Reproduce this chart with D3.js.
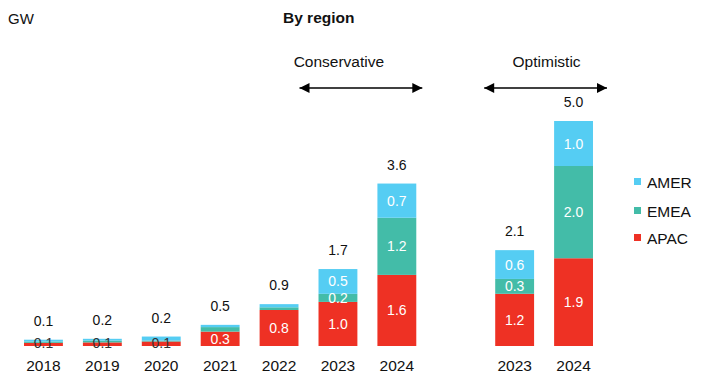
<!DOCTYPE html>
<html><head><meta charset="utf-8">
<script src="https://cdn.jsdelivr.net/npm/d3@7"></script>
<style>body{margin:0;background:#fff}svg{display:block;font-family:Arial,"Liberation Sans",sans-serif}</style>
</head><body><svg id="c" width="720" height="381"></svg>
<script>
// slot keys (one empty slot separates scenarios)
const slots = ["2018","2019","2020","2021","2022","2023c","2024c","gap","2023o","2024o"];
const bars = ["2018","2019","2020","2021","2022","2023c","2024c","2023o","2024o"];
const xLabels = ["2018","2019","2020","2021","2022","2023","2024","2023","2024"];
const apac = [0.07,0.08,0.10,0.32,0.80,0.98,1.58,1.16,1.95];
const emea = [0.03,0.04,0.02,0.10,0.06,0.18,1.27,0.33,2.05];
const amer = [0.04,0.04,0.09,0.05,0.07,0.55,0.76,0.64,1.00];
const totalLabels = ["0.1","0.2","0.2","0.5","0.9","1.7","3.6","2.1","5.0"];
const apacLabels = ["0.1","0.1","0.1","0.3","0.8","1.0","1.6","1.2","1.9"];
const emeaLabels = ["","","","","","0.2","1.2","0.3","2.0"];
const amerLabels = ["","","","","","0.5","0.7","0.6","1.0"];
const seriesNames = ["APAC","EMEA","AMER"];
const colors = {APAC:"#ee3124", EMEA:"#43bca8", AMER:"#55cdf3"};
const scenarios = [{name:"Conservative", from:"2023c", to:"2024c"},{name:"Optimistic", from:"2023o", to:"2024o"}];

const svg = d3.select("#c");
const x = d3.scaleBand().domain(slots).range([14, 603]).paddingInner(0.34).paddingOuter(0.17);
const y = d3.scaleLinear().domain([0, 5.0]).range([346, 121]);

const rows = bars.map((k,i)=>({key:k, APAC:apac[i], EMEA:emea[i], AMER:amer[i], i}));
const stack = d3.stack().keys(seriesNames)(rows);
const labelsBy = {APAC:apacLabels, EMEA:emeaLabels, AMER:amerLabels};

stack.forEach(s=>{
  svg.append("g").selectAll("rect").data(s).join("rect")
    .attr("x", d=>x(d.data.key)).attr("width", x.bandwidth())
    .attr("y", d=>y(d[1])).attr("height", d=>y(d[0])-y(d[1]))
    .attr("fill", colors[s.key]);
});
const tiny = d=>(y(d[0])-y(d[1]))<6;
stack.forEach(s=>{
  svg.append("g").selectAll("text").data(s.filter(d=>labelsBy[s.key][d.data.i]!=="")).join("text")
    .attr("x", d=>x(d.data.key)+x.bandwidth()/2)
    .attr("y", d=>tiny(d) ? y(d[0])-3+5 : (y(d[0])+y(d[1]))/2+5)
    .attr("text-anchor","middle").attr("font-size",14)
    .attr("fill", d=>tiny(d) ? "#333" : "#fff")
    .text(d=>labelsBy[s.key][d.data.i]);
});
// totals
svg.append("g").selectAll("text").data(rows).join("text")
  .attr("x", d=>x(d.key)+x.bandwidth()/2)
  .attr("y", d=>y(d.APAC+d.EMEA+d.AMER)-14)
  .attr("text-anchor","middle").attr("font-size",14).attr("fill","#111")
  .text(d=>totalLabels[d.i]);
// x axis labels
svg.append("g").selectAll("text").data(rows).join("text")
  .attr("x", d=>x(d.key)+x.bandwidth()/2).attr("y", 371)
  .attr("text-anchor","middle").attr("font-size",15.5).attr("fill","#111")
  .text(d=>xLabels[d.i]);

// titles
svg.append("text").attr("x",8).attr("y",24).attr("font-size",15).attr("fill","#111").text("GW");
svg.append("text").attr("x",283).attr("y",23).attr("font-size",15.5).attr("font-weight","bold").attr("fill","#111").text("By region");

// scenario arrows
const defs = svg.append("defs");
defs.append("marker").attr("id","ah").attr("viewBox","0 0 10 10").attr("refX",10).attr("refY",5)
  .attr("markerWidth",12).attr("markerHeight",10).attr("markerUnits","userSpaceOnUse").attr("orient","auto-start-reverse")
  .append("path").attr("d","M0,0L10,5L0,10Z").attr("fill","#000");
const arrowPad = [[-19, 6], [-11, 14]];
const textShift = [-22, 1];
scenarios.forEach((s,i)=>{
  const x0 = x(s.from) + arrowPad[i][0], x1 = x(s.to) + x.bandwidth() + arrowPad[i][1];
  svg.append("line").attr("x1",x0).attr("x2",x1).attr("y1",88).attr("y2",88)
    .attr("stroke","#000").attr("stroke-width",1.3)
    .attr("marker-start","url(#ah)").attr("marker-end","url(#ah)");
  svg.append("text").attr("x",(x0+x1)/2 + textShift[i]).attr("y",67).attr("text-anchor","middle")
    .attr("font-size",15.5).attr("fill","#111").text(s.name);
});

// legend
const legendItems = ["AMER","EMEA","APAC"];
const legendY = [182,211,238];
const lg = svg.append("g").selectAll("g").data(legendItems).join("g")
  .attr("transform",(d,i)=>`translate(634,${legendY[i]})`);
lg.append("rect").attr("x",0).attr("y",-4).attr("width",7).attr("height",7).attr("fill",d=>colors[d]);
lg.append("text").attr("x",13).attr("y",5.5).attr("font-size",15.5).attr("fill","#111").text(d=>d);
</script></body></html>
